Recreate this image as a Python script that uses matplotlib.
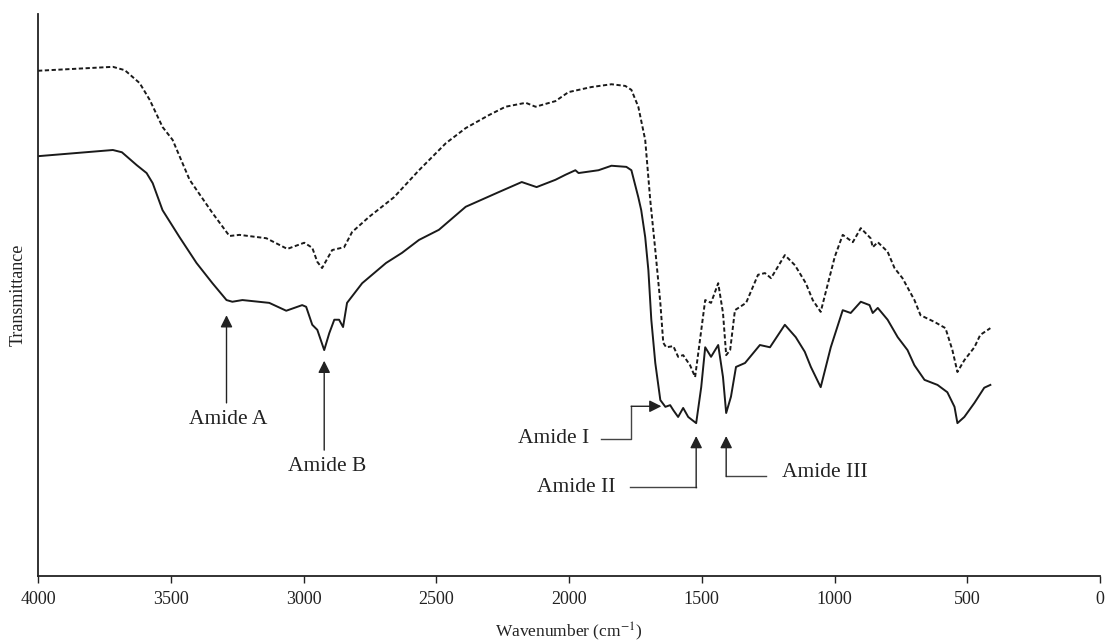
import matplotlib
matplotlib.use("Agg")
import matplotlib.pyplot as plt

# Upper (dashed) spectrum: wavenumber (cm-1) and transmittance (arbitrary units)
wn_dashed = [4000, 3718, 3673, 3617, 3579, 3531, 3493, 3429, 3343, 3279, 3241, 3140,
             3061, 2997, 2967, 2948, 2930, 2892, 2847, 2817, 2753, 2659, 2565, 2464,
             2389, 2302, 2239, 2163, 2126, 2051, 2002, 1916, 1840, 1788, 1765, 1739,
             1713, 1694, 1675, 1656, 1645, 1634, 1607, 1589, 1570, 1544, 1525, 1487,
             1465, 1438, 1420, 1408, 1393, 1375, 1333, 1288, 1262, 1239, 1187, 1149,
             1108, 1082, 1052, 999, 969, 931, 901, 864, 856, 837, 800, 774, 744, 699,
             676, 623, 582, 556, 537, 511, 473, 451, 413]
t_dashed = [89.9, 90.6, 90.0, 87.7, 84.7, 79.9, 77.6, 70.5, 64.6, 60.5, 60.7, 60.1,
            58.2, 59.3, 58.4, 55.9, 54.8, 58.0, 58.5, 61.2, 63.9, 67.4, 72.2, 77.0,
            79.7, 82.0, 83.5, 84.2, 83.5, 84.5, 86.1, 87.0, 87.5, 87.2, 86.5, 83.5,
            77.6, 66.9, 58.0, 48.6, 41.5, 40.7, 40.9, 39.0, 39.3, 37.5, 35.4, 49.1,
            48.6, 52.1, 46.8, 39.3, 40.2, 47.3, 48.6, 53.6, 53.9, 53.0, 57.1, 55.3,
            52.1, 49.1, 47.0, 56.8, 60.7, 59.4, 61.9, 60.1, 58.5, 59.4, 57.7, 54.8,
            53.0, 49.1, 46.4, 45.2, 44.1, 40.2, 36.3, 38.4, 40.7, 42.9, 44.1]

# Lower (solid) spectrum
wn_solid = [4000, 3718, 3684, 3628, 3591, 3568, 3531, 3467, 3403, 3343, 3290, 3268,
            3230, 3129, 3065, 3005, 2990, 2967, 2948, 2922, 2903, 2884, 2866, 2851,
            2836, 2779, 2689, 2629, 2565, 2490, 2389, 2265, 2178, 2122, 2051, 2013,
            1976, 1964, 1889, 1840, 1784, 1765, 1739, 1728, 1713, 1701, 1690, 1675,
            1656, 1637, 1619, 1607, 1589, 1570, 1551, 1521, 1502, 1487, 1465, 1438,
            1420, 1408, 1390, 1371, 1337, 1281, 1243, 1187, 1146, 1112, 1089, 1052,
            1014, 969, 939, 901, 868, 856, 837, 800, 762, 725, 699, 661, 612, 575,
            548, 537, 511, 473, 436, 413]
t_solid = [74.7, 75.8, 75.4, 73.1, 71.7, 69.9, 65.1, 60.3, 55.7, 52.1, 49.1, 48.8,
           49.1, 48.6, 47.2, 48.2, 47.9, 44.7, 43.8, 40.2, 43.2, 45.6, 45.6, 44.3,
           48.6, 52.1, 55.7, 57.5, 59.8, 61.6, 65.7, 68.3, 70.1, 69.2, 70.5, 71.4,
           72.2, 71.7, 72.2, 73.0, 72.8, 72.2, 67.4, 65.1, 60.3, 54.4, 45.6, 37.9,
           31.3, 30.1, 30.4, 29.5, 28.3, 29.9, 28.3, 27.2, 33.6, 40.7, 39.0, 41.1,
           35.4, 29.0, 31.9, 37.2, 37.9, 41.1, 40.7, 44.7, 42.5, 39.9, 37.2, 33.6,
           40.7, 47.3, 46.8, 48.8, 48.2, 46.8, 47.7, 45.6, 42.5, 40.2, 37.5, 34.9,
           34.0, 32.7, 30.1, 27.2, 28.3, 30.8, 33.5, 34.0]

x_ticks = [4000, 3500, 3000, 2500, 2000, 1500, 1000, 500, 0]

plt.rcParams['font.family'] = ['Liberation Serif', 'DejaVu Serif']
plt.rcParams['mathtext.fontset'] = 'stix'

fig = plt.figure(figsize=(11.06, 6.42), dpi=100)
ax = fig.add_axes([38 / 1106, 66 / 642, 1062 / 1106, 562 / 642])

ax.plot(wn_dashed, t_dashed, color='#1a1a1a', lw=1.4, linestyle=(0, (2.2, 1.3)))
ax.plot(wn_solid, t_solid, color='#1a1a1a', lw=1.4)

ax.set_xlim(4000, 0)
ax.set_ylim(0, 100)
ax.set_xticks(x_ticks)
ax.set_xticklabels([str(v) for v in x_ticks], fontsize=13)
ax.set_yticks([])
ax.tick_params(axis='x', direction='out', length=5, width=1, pad=6, colors='#222222')
for s in ['top', 'right']:
    ax.spines[s].set_visible(False)
for s in ['left', 'bottom']:
    ax.spines[s].set_linewidth(1.3)
    ax.spines[s].set_color('#222222')

ax.set_xlabel('Wavenumber (cm$^{-1}$)', fontsize=12.5, labelpad=9, color='#222222')
ax.set_ylabel('Transmittance', fontsize=13, labelpad=8, color='#222222')

# Annotations
arrow_kw = dict(arrowstyle='-|>', color='#222222', lw=1.0, mutation_scale=18,
                shrinkA=0, shrinkB=0)
line_col = '#444444'
tsize = 15.5
ax.annotate('', xy=(3290, 46.4), xytext=(3290, 30.8), arrowprops=arrow_kw)
ax.text(3285, 27.8, 'Amide A', ha='center', va='center', fontsize=tsize, color='#222222')

ax.annotate('', xy=(2922, 38.3), xytext=(2922, 22.4), arrowprops=arrow_kw)
ax.text(2911, 19.4, 'Amide B', ha='center', va='center', fontsize=tsize, color='#222222')

# Amide I: elbow line then arrow to the right
ax.plot([1878, 1765, 1765], [24.4, 24.4, 30.2], color=line_col, lw=1.0)
ax.annotate('', xy=(1652, 30.2), xytext=(1766, 30.2), arrowprops=arrow_kw)
ax.text(2058, 24.4, 'Amide I', ha='center', va='center', fontsize=tsize, color='#222222')

# Amide II
ax.plot([1769, 1521], [15.8, 15.8], color=line_col, lw=1.0)
ax.annotate('', xy=(1521, 24.9), xytext=(1521, 15.7), arrowprops=arrow_kw)
ax.text(1972, 15.8, 'Amide II', ha='center', va='center', fontsize=tsize, color='#222222')

# Amide III
ax.plot([1258, 1408], [17.8, 17.8], color=line_col, lw=1.0)
ax.annotate('', xy=(1408, 24.9), xytext=(1408, 17.7), arrowprops=arrow_kw)
ax.text(1036, 18.5, 'Amide III', ha='center', va='center', fontsize=tsize, color='#222222')

fig.savefig('out.png', dpi=100, facecolor='white')
